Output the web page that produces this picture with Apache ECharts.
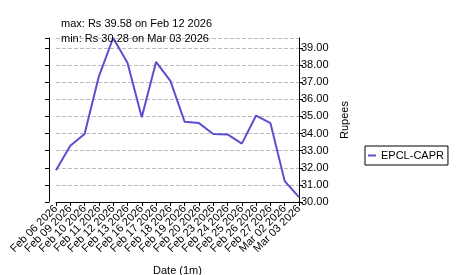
<!DOCTYPE html>
<html>
<head>
<meta charset="utf-8">
<script src="https://cdn.jsdelivr.net/npm/echarts@6/dist/echarts.min.js"></script>
<style>
  html, body { margin: 0; padding: 0; background: #fff; }
  #main { width: 456px; height: 275px; }
</style>
</head>
<body>
<div id="main"></div>
<script>
// data
var dates = ['Feb 06 2026', 'Feb 09 2026', 'Feb 10 2026', 'Feb 11 2026', 'Feb 12 2026', 'Feb 13 2026',
  'Feb 16 2026', 'Feb 17 2026', 'Feb 18 2026', 'Feb 19 2026', 'Feb 20 2026', 'Feb 23 2026',
  'Feb 24 2026', 'Feb 25 2026', 'Feb 26 2026', 'Feb 27 2026', 'Mar 02 2026', 'Mar 03 2026'];
var prices = [31.85, 33.29, 33.97, 37.34, 39.58, 38.14, 34.95, 38.18, 37.08, 34.69, 34.61, 33.97,
  33.95, 33.41, 35.05, 34.61, 31.22, 30.28];
var seriesName = 'EPCL-CAPR';
var yMin = 30, yMax = 39.58, yStep = 1;

var chart = echarts.init(document.getElementById('main'));
var font = 'Liberation Sans, Arial, sans-serif';

var option = {
  animation: false,
  title: {
    text: 'max: Rs 39.58 on Feb 12 2026\nmin: Rs 30.28 on Mar 03 2026',
    left: 56, top: 11,
    textStyle: { fontFamily: font, fontSize: 11, fontWeight: 'normal', color: '#000', lineHeight: 15 }
  },
  legend: {
    data: [seriesName],
    left: 365, top: 146,
    orient: 'vertical',
    padding: [4, 4, 4, 3],
    borderColor: '#000', borderWidth: 1,
    itemWidth: 8, itemHeight: 2,
    icon: 'rect',
    textStyle: { fontFamily: font, fontSize: 11, color: '#000' }
  },
  grid: { left: 56, right: 157, top: 38, bottom: 73, containLabel: false, outerBoundsMode: 'none' },
  xAxis: {
    type: 'category',
    data: dates,
    boundaryGap: false,
    name: 'Date (1m)',
    nameLocation: 'middle',
    nameGap: 63,
    nameTextStyle: { fontFamily: font, fontSize: 11, color: '#000' },
    axisLine: { lineStyle: { color: '#000', width: 1 } },
    axisTick: { alignWithLabel: true, length: 4, inside: false, lineStyle: { color: '#000' } },
    axisLabel: { rotate: 45, interval: 0, fontFamily: font, fontSize: 11, color: '#000', margin: 5 },
    splitLine: { show: false }
  },
  yAxis: [{
    type: 'value',
    position: 'right',
    min: yMin, max: yMax, interval: yStep,
    name: 'Rupees',
    nameLocation: 'middle',
    nameRotate: 90,
    nameGap: 34,
    nameTextStyle: { fontFamily: font, fontSize: 11, color: '#000' },
    axisLine: { show: true, lineStyle: { color: '#000' } },
    axisTick: { show: true, length: 4, lineStyle: { color: '#000' } },
    axisLabel: {
      showMaxLabel: false,
      fontFamily: font, fontSize: 11, color: '#000', margin: 2,
      formatter: function (v) { return v.toFixed(2); }
    },
    splitLine: { show: true, lineStyle: { color: '#bbb', type: 'dashed', width: 1 } }
  }, {
    type: 'value',
    position: 'left',
    offset: 7,
    min: yMin, max: yMax, interval: yStep,
    axisLine: { show: true, lineStyle: { color: '#000' } },
    axisTick: { show: true, length: 4, lineStyle: { color: '#000' } },
    axisLabel: { show: false },
    splitLine: { show: false }
  }],
  series: [{
    name: seriesName,
    type: 'line',
    data: prices,
    yAxisIndex: 0,
    symbol: 'none',
    lineStyle: { color: '#5a4fcf', width: 2 },
    itemStyle: { color: '#5a4fcf' }
  }]
};
chart.setOption(option);
</script>
</body>
</html>
